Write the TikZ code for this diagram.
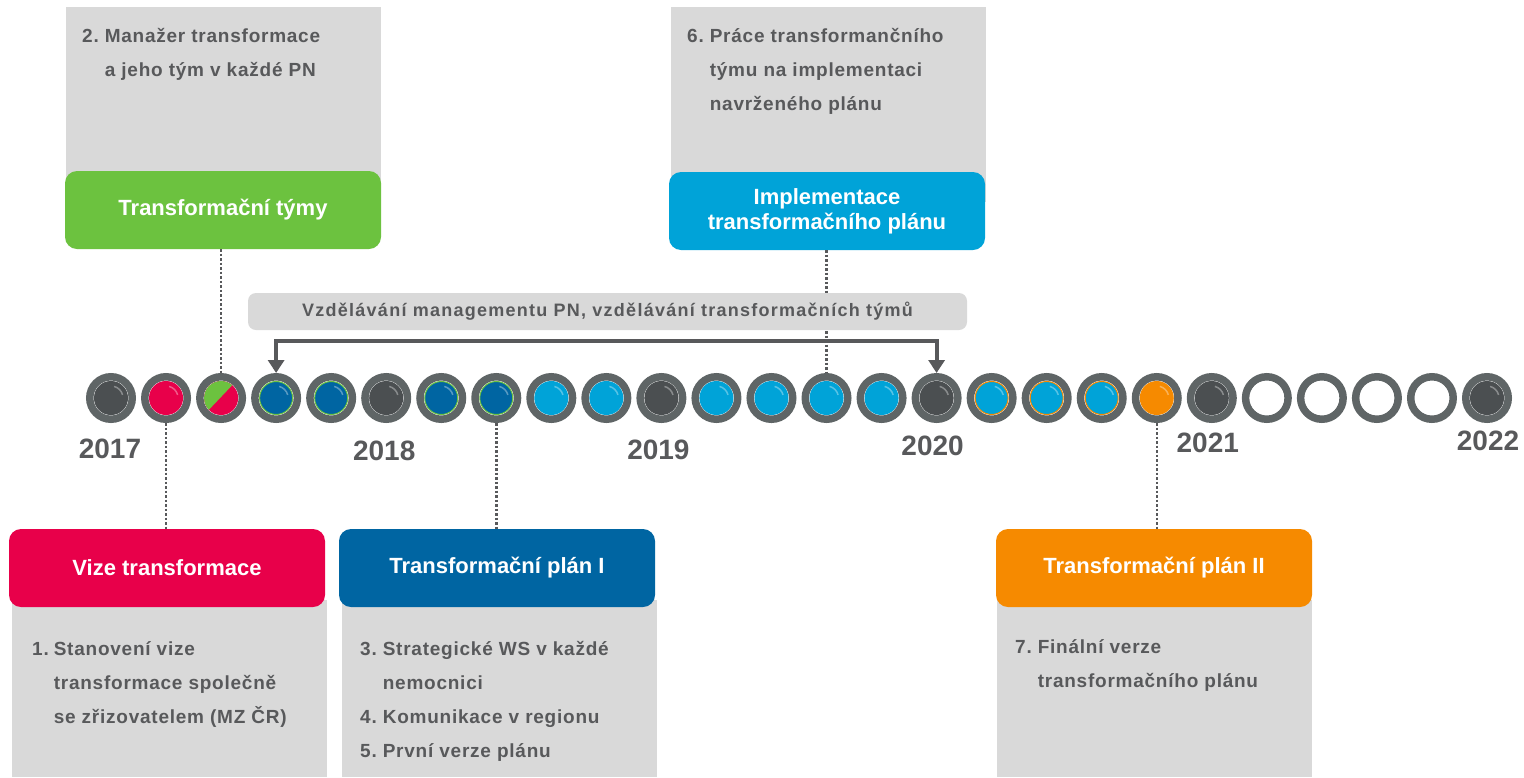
\documentclass[tikz,border=0pt]{standalone}
\usepackage{fontspec}
\setmainfont{Liberation Sans}
\newfontfamily\notefont[LetterSpace=4]{Liberation Sans}
\newfontfamily\barfont[LetterSpace=7]{Liberation Sans}
\usetikzlibrary{arrows.meta,calc}
\definecolor{pnred}{HTML}{E8004A}
\definecolor{pnblue}{HTML}{0065A2}
\definecolor{pncyan}{HTML}{00A3D8}
\definecolor{pngreen}{HTML}{6CC23F}
\definecolor{pnorange}{HTML}{F68A00}
\definecolor{boxgray}{HTML}{D9D9D9}
\definecolor{textgray}{HTML}{58595B}
\definecolor{ringgray}{HTML}{5F6566}
\definecolor{darkdisk}{HTML}{4B4F51}
\tikzset{
  ring/.style={circle,draw=ringgray,line width=7.5pt,fill=white,minimum size=42.5pt,inner sep=0pt},
  headbox/.style={fill=#1,rounded corners=12pt,minimum width=316pt,minimum height=78pt,
    text=white,font=\fontsize{22}{25}\selectfont\bfseries,align=center,inner sep=0pt},
  notebox/.style={fill=boxgray,minimum width=315pt,anchor=north west,inner sep=0pt},
  notes/.style={anchor=base west,inner sep=0pt,text=textgray,font=\notefont\fontsize{19}{34}\selectfont\bfseries},
  year/.style={text=textgray,font=\fontsize{28}{30}\selectfont\bfseries,inner sep=0pt},
  dots/.style={draw=textgray,line width=2.5pt,dash pattern=on 2.5pt off 2pt},
  spanarrow/.style={draw=textgray,line width=4pt,
    {Triangle[width=16pt,length=13pt]}-{Triangle[width=16pt,length=13pt]}},
}
\begin{document}
\begin{tikzpicture}[x=1pt,y=-1pt]
\useasboundingbox (0,0) rectangle (1524,777);
% upper boxes
\node[notebox,minimum height=195pt] (teamnote) at (66,7) {};
\node[notebox,minimum height=195pt] (implnote) at (671,7) {};
\node[headbox=pngreen] (tteam) at (223,210) {Transformační týmy};
\node[headbox=pncyan] (impl) at (827,211) {Implementace\\transformačního plánu};
\node[notes] (teamtxt) at (82,42) {\begin{tabular}[t]{@{}l@{\hspace{6pt}}l@{}}
  2. & Manažer transformace\\ & a jeho tým v každé PN\end{tabular}};
\node[notes] (impltxt) at (687,42) {\begin{tabular}[t]{@{}l@{\hspace{6pt}}l@{}}
  6. & Práce transformančního\\ & týmu na implementaci\\ & navrženého plánu\end{tabular}};
% lower boxes
\node[notebox,minimum height=177pt] (vizenote) at (12,600) {};
\node[notebox,minimum height=177pt] (plan1note) at (342,600) {};
\node[notebox,minimum height=177pt] (plan2note) at (997,600) {};
\node[headbox=pnred] (vize) at (167,568) {Vize transformace};
\node[headbox=pnblue] (plan1) at (497,568) {Transformační plán I};
\node[headbox=pnorange] (plan2) at (1154,568) {Transformační plán II};
\node[notes] (vizetxt) at (32,655) {\begin{tabular}[t]{@{}l@{\hspace{5pt}}l@{}}
  1. & Stanovení vize\\ & transformace společně\\ & se zřizovatelem (MZ ČR)\end{tabular}};
\node[notes] (plan1txt) at (360,655) {\begin{tabular}[t]{@{}l@{\hspace{6pt}}l@{}}
  3. & Strategické WS v každé\\ & nemocnici\\ 4. & Komunikace v regionu\\ 5. & První verze plánu\end{tabular}};
\node[notes] (plan2txt) at (1015,653) {\begin{tabular}[t]{@{}l@{\hspace{6pt}}l@{}}
  7. & Finální verze\\ & transformačního plánu\end{tabular}};
% timeline
\foreach \i/\col/\rim in {0/darkdisk/darkdisk,1/pnred/pnred,2/pnred/pnred,3/pnblue/pngreen,
    4/pnblue/pngreen,5/darkdisk/darkdisk,6/pnblue/pngreen,7/pnblue/pngreen,8/pncyan/pncyan,
    9/pncyan/pncyan,10/darkdisk/darkdisk,11/pncyan/pncyan,12/pncyan/pncyan,13/pncyan/pncyan,
    14/pncyan/pncyan,15/darkdisk/darkdisk,16/pncyan/pnorange,17/pncyan/pnorange,
    18/pncyan/pnorange,19/pnorange/pnorange,20/darkdisk/darkdisk,21/white/white,
    22/white/white,23/white/white,24/white/white,25/darkdisk/darkdisk}{
  \node[ring] (c\i) at (111+55.04*\i,398) {};
  \filldraw[fill=\col,draw=\rim,line width=1pt] (c\i.center) circle (16.5);
}
\begin{scope}
  \clip (c2.center) circle (17);
  \fill[pngreen] ($(c2.center)+(-20,20)$) -- ($(c2.center)+(18,-20)$) -- ($(c2.center)+(-20,-20)$) -- cycle;
\end{scope}
\foreach \i in {0,...,20}{
  \ifnum\i=2\else
  \draw[white,opacity=.35,line width=1.5pt] ($(c\i.center)+(-15:12)$) arc[start angle=-15,end angle=-75,radius=12];
  \fi
}
\draw[white,opacity=.35,line width=1.5pt] ($(c25.center)+(-15:12)$) arc[start angle=-15,end angle=-75,radius=12];
\foreach \i/\yr/\dx/\dy in {0/2017/-1/51,5/2018/-2/53,10/2019/-3/52,15/2020/-4/48,20/2021/-4/45,25/2022/1/43}
  \node[year] (y\yr) at ($(c\i)+(\dx,\dy)$) {\yr};
% connectors
\draw[dots] (c2 |- tteam.south) -- (c2.north);
\draw[dots] (c13 |- impl.south) -- (c13.north);
\draw[dots] (c1.south) -- (c1 |- vize.north);
\draw[dots] (c7.south) -- (c7 |- plan1.north);
\draw[dots] (c19.south) -- (c19 |- plan2.north);
\node[fill=boxgray,rounded corners=8pt,minimum width=719pt,minimum height=37pt,inner sep=0pt,
  text=textgray,font=\barfont\fontsize{18}{20}\selectfont\bfseries] (edu) at (607.5,311.5)
  {Vzdělávání managementu PN, vzdělávání transformačních týmů};
\coordinate (span) at (607,341);
\draw[spanarrow] (c3.north) |- (span) -| (c15.north);
\end{tikzpicture}
\end{document}
